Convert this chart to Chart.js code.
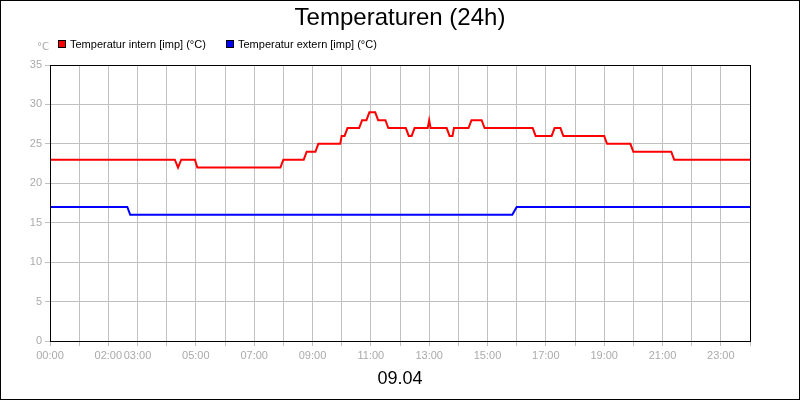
<!DOCTYPE html>
<html><head><script src="https://cdn.jsdelivr.net/npm/chart.js@4"></script>
<style>body{margin:0;background:#fff}#w{width:800px;height:400px}</style></head>
<body><div id="w"><canvas id="c"></canvas></div>
<script>
const internT=[0,4.28,4.39,4.5,4.97,5.05,7.9,8.0,8.7,8.8,9.1,9.2,9.95,10.0,10.1,10.2,10.6,10.7,10.85,10.95,11.15,11.25,11.5,11.6,12.2,12.3,12.4,12.5,12.95,13.0,13.05,13.1,13.6,13.7,13.8,13.85,14.35,14.45,14.8,14.9,16.55,16.65,17.2,17.3,17.5,17.6,19.0,19.1,19.9,20.0,21.3,21.4,24];
const internV=[23,23,22,23,23,22,22,23,23,24,24,25,25,26,26,27,27,28,28,29,29,28,28,27,27,26,26,27,27,28,27,27,27,26,26,27,27,28,28,27,27,26,26,27,27,26,26,25,25,24,24,23,23];
const externT=[0,2.65,2.75,15.85,16.0,24];
const externV=[17,17,16,16,17,17];
const tickLabels={0:'00:00',2:'02:00',3:'03:00',5:'05:00',7:'07:00',9:'09:00',11:'11:00',13:'13:00',15:'15:00',17:'17:00',19:'19:00',21:'21:00',23:'23:00'};
const pts=(t,v)=>t.map((x,i)=>({x,y:v[i]}));
const deco={id:'deco',afterDraw(ch){const c=ch.ctx,a=ch.chartArea;c.save();
c.strokeStyle='#000';c.lineWidth=1;c.strokeRect(a.left+0.5,a.top+0.5,a.right-a.left,a.bottom-a.top);
c.strokeRect(0.5,0.5,799,399);
c.fillStyle='#000';c.font='24px "Liberation Sans", Arial';c.textAlign='center';c.textBaseline='middle';
c.fillText('Temperaturen (24h)',400,18);
c.font='18px "Liberation Sans", Arial';c.fillText('09.04',400,379);
c.font='10px "DejaVu Sans"';c.fillStyle='#aaa';c.textAlign='left';c.fillText('°C',37,47);
c.font='11px "Liberation Sans", Arial';
[[58,'#ff0000','Temperatur intern [imp] (°C)'],[226,'#0000ff','Temperatur extern [imp] (°C)']].forEach(([x,col,t])=>{
c.fillStyle=col;c.fillRect(x,40,8,8);c.strokeStyle='#000';c.strokeRect(x+0.5,40.5,7,7);c.fillStyle='#000';c.fillText(t,x+12,45);});
c.restore();}};
new Chart(document.getElementById('c'),{type:'line',
data:{datasets:[
{label:'Temperatur intern [imp] (°C)',data:pts(internT,internV),borderColor:'#ff0000',borderWidth:2,pointRadius:0,tension:0},
{label:'Temperatur extern [imp] (°C)',data:pts(externT,externV),borderColor:'#0000ff',borderWidth:2,pointRadius:0,tension:0}]},
options:{responsive:true,maintainAspectRatio:false,animation:false,
layout:{padding:{top:65,right:50,left:0,bottom:0}},
plugins:{legend:{display:false},title:{display:false},tooltip:{enabled:false}},
scales:{
x:{type:'linear',min:0,max:24,afterFit(s){s.height=59;},
ticks:{stepSize:1,autoSkip:false,maxRotation:0,color:'#aaa',font:{size:11,family:'"Liberation Sans", Arial'},callback:v=>tickLabels[v]||''},
grid:{color:'#c0c0c0',tickLength:5},border:{display:false}},
y:{min:0,max:35,afterFit(s){s.width=50;},
ticks:{stepSize:5,color:'#aaa',font:{size:11,family:'"Liberation Sans", Arial'}},
grid:{color:'#c0c0c0',tickLength:5},border:{display:false}}}},
plugins:[deco]});
</script></body></html>
